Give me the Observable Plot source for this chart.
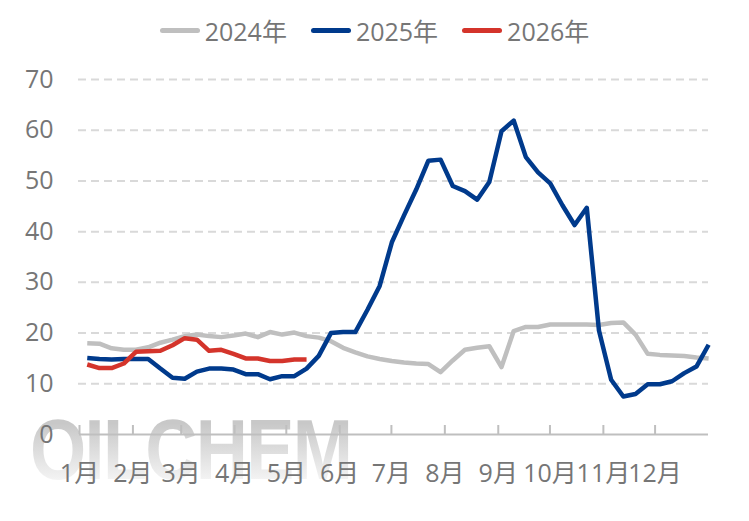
<!DOCTYPE html>
<html>
<head>
<meta charset="utf-8">
<script src="https://cdn.jsdelivr.net/npm/d3@7"></script>
<script src="https://cdn.jsdelivr.net/npm/@observablehq/plot@0.6"></script>
<style>
  html, body { margin: 0; padding: 0; background: #fff; }
  body { width: 749px; height: 521px; position: relative; overflow: hidden;
         font-family: "Open Sans", "Noto Sans CJK SC", sans-serif; }
  #legend { height: 60px; display: flex; justify-content: center; align-items: center;
            gap: 24px; padding-left: 0px; box-sizing: border-box; color: #767676; font-size: 25px; }
  .item { display: flex; align-items: center; gap: 5px; }
  .sw { width: 40px; height: 5px; border-radius: 3px; }
  #wm { position: absolute; left: 30px; top: 406px; font-family: "Liberation Sans", Arial, sans-serif;
        font-weight: bold; font-size: 86px; letter-spacing: -2px; transform: scaleX(0.84); transform-origin: left top;
        background: linear-gradient(#c8c8c8 20%, #f6f6f6 90%); -webkit-background-clip: text; background-clip: text;
        color: transparent; z-index: 0; line-height: 1; }
  #chart { position: relative; z-index: 1; }
</style>
</head>
<body>
<div id="wm">OILCHEM</div>
<div id="legend"></div>
<div id="chart"></div>
<script>
const months = ["1月","2月","3月","4月","5月","6月","7月","8月","9月","10月","11月","12月"];
const monthStartDays = [0,31,59,90,120,151,181,212,243,273,304,334];
const yTicks = [0,10,20,30,40,50,60,70];
const gridValues = [10,20,30,40,50,60,70];

const seriesNames = ["2024年","2025年","2026年"];
const seriesColors = ["#bfbfbf","#003a8c","#d4342b"];

const v2024 = [18.0,17.9,17.0,16.7,16.7,17.2,18.1,18.7,19.4,19.7,19.4,19.2,19.5,19.9,19.2,20.2,19.7,20.1,19.4,19.1,
  18.4,17.1,16.2,15.4,14.9,14.5,14.2,14.0,13.9,12.3,14.6,16.7,17.1,17.4,13.3,20.4,21.2,21.2,21.7,21.7,
  21.7,21.7,21.6,22.0,22.1,19.7,15.9,15.7,15.6,15.5,15.2,15.0];
const v2025 = [15.1,14.9,14.8,14.9,14.9,14.9,13.0,11.2,11.0,12.4,13.0,13.0,12.8,11.9,11.9,10.9,11.5,11.5,13.0,15.5,
  20.0,20.2,20.2,24.6,29.3,37.9,43.2,48.3,54.0,54.2,49.0,48.0,46.3,49.8,59.8,61.9,54.7,51.7,49.5,45.2,
  41.3,44.7,20.5,10.8,7.5,8.0,9.9,9.9,10.5,12.1,13.4,17.7];
const v2026 = [13.8,13.1,13.1,14.0,16.3,16.4,16.5,17.6,19.0,18.7,16.5,16.7,15.9,15.0,15.0,14.5,14.5,14.8,14.8];

const firstWeekDay = 4.5, weekStep = 7.07;
const toRows = vals => vals.map((v, i) => ({day: firstWeekDay + i * weekStep, value: v}));
const allValues = [v2024, v2025, v2026];

// legend
const legend = document.getElementById("legend");
seriesNames.forEach((n, i) => {
  const it = document.createElement("div"); it.className = "item";
  const sw = document.createElement("div"); sw.className = "sw"; sw.style.background = seriesColors[i];
  const tx = document.createElement("span"); tx.textContent = n;
  it.appendChild(sw); it.appendChild(tx); legend.appendChild(it);
});

const chart = Plot.plot({
  width: 749, height: 461,
  marginLeft: 79, marginRight: 41, marginTop: 19, marginBottom: 87,
  x: {domain: [0, 365]},
  y: {domain: [0, 70]},
  style: {fontFamily: '"Open Sans", "Noto Sans CJK SC", sans-serif', fontSize: "25px", color: "#767676", background: "transparent", overflow: "visible"},
  marks: [
    Plot.ruleY(gridValues, {stroke: "#d9d9d9", strokeWidth: 2, strokeDasharray: "8,5", insetLeft: -1}),
    Plot.axisY({ticks: yTicks, tickSize: 0, tickPadding: 26, label: null, tickFormat: d => String(d)}),
    Plot.axisX({ticks: monthStartDays, tickSize: 0, tickPadding: 30, label: null,
      tickFormat: d => months[monthStartDays.indexOf(d)]}),
    Plot.tickX(monthStartDays, {x: d => d, stroke: "#bfbfbf", strokeWidth: 2, insetTop: 346}),
    Plot.ruleY([0], {stroke: "#bfbfbf", strokeWidth: 2}),
    ...allValues.map((vals, i) => Plot.line(toRows(vals), {x: "day", y: "value", stroke: seriesColors[i],
      strokeWidth: 4.5, strokeLinejoin: "round", strokeLinecap: "butt"}))
  ]
});
document.getElementById("chart").appendChild(chart);
</script>
</body>
</html>
